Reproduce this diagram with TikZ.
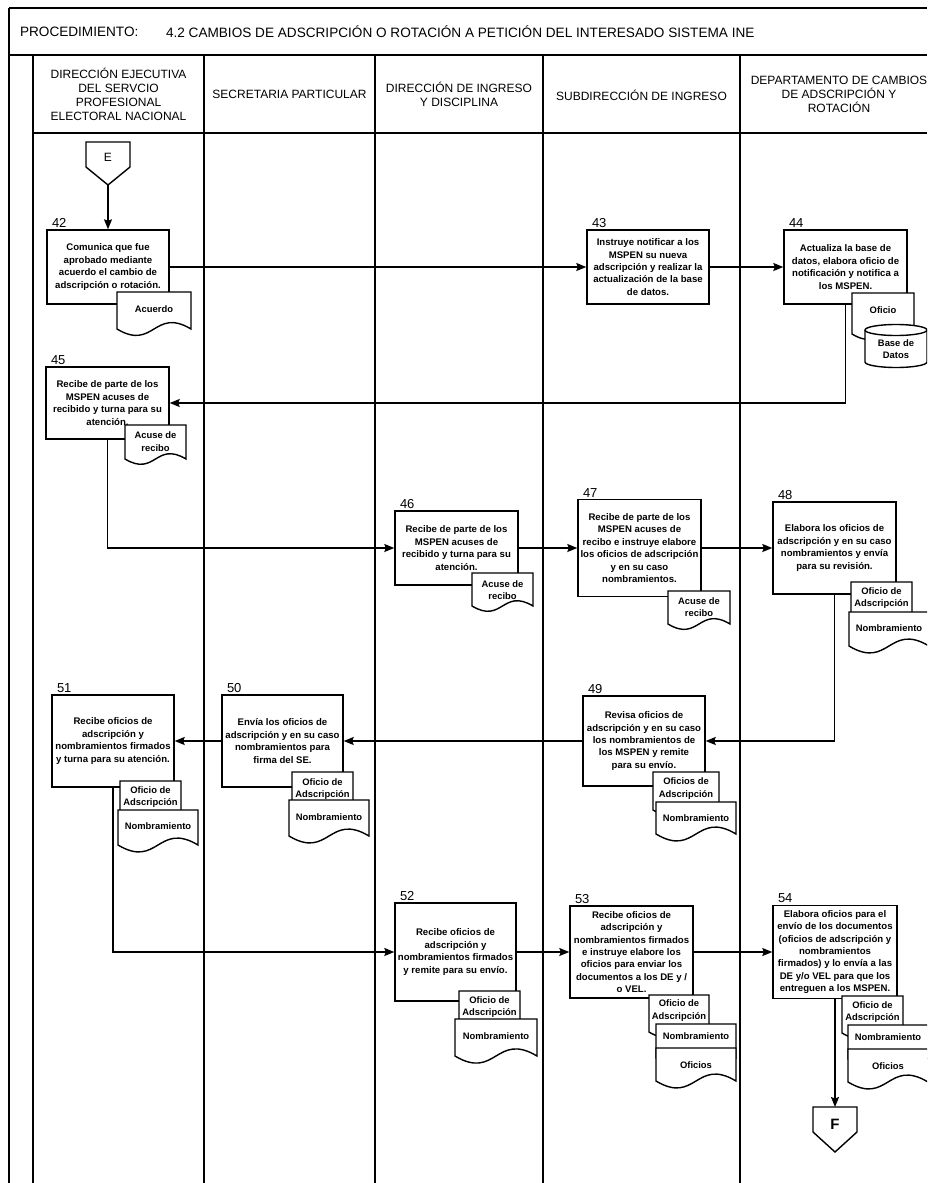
\documentclass[tikz,border=0pt]{standalone}
\usepackage{fontspec}
\setmainfont{Liberation Sans}
\usetikzlibrary{arrows.meta}
\begin{document}
\begin{tikzpicture}[line width=1.4pt,>={Stealth[length=10pt,width=8pt,inset=1.5pt]},x=1pt,y=-1pt,
	caja/.style={draw,fill=white,align=center,inner sep=0pt,minimum width=122,minimum height=74,font=\fontsize{9.6}{12.4}\selectfont\bfseries},
	num/.style={anchor=south west,xshift=4pt,inner sep=1pt,font=\fontsize{13}{13}\selectfont},
	carril/.style={align=center,font=\fontsize{12}{14}\selectfont},
	docu/.style={align=center,inner sep=0pt,font=\fontsize{9.4}{12.4}\selectfont\bfseries}]
		\useasboundingbox (0,0) rectangle (927,1183);
		\clip (0,0) rectangle (927,1183);
		% marco y carriles
		\draw (9,8) -- (927,8);
		\draw (9,55) -- (927,55);
		\draw (9,8) -- (9,1183);
		\draw (33,133) -- (927,133);
		\foreach \x in {33,204,375,543,740} \draw (\x,55) -- (\x,1183);
		\node[anchor=west,font=\fontsize{13.6}{15}\selectfont] (proc) at (16,31.5) {PROCEDIMIENTO:};
		\node[anchor=west,font=\fontsize{13.6}{15}\selectfont] (titulo) at (162,31.5) {4.2 CAMBIOS DE ADSCRIPCIÓN O ROTACIÓN A PETICIÓN DEL INTERESADO SISTEMA INE};
		\node[carril] (c1) at (118.5,94) {DIRECCIÓN EJECUTIVA\\DEL SERVCIO\\PROFESIONAL\\ELECTORAL NACIONAL};
		\node[carril] (c2) at (289.5,94) {SECRETARIA PARTICULAR};
		\node[carril] (c3) at (459,94) {DIRECCIÓN DE INGRESO\\Y DISCIPLINA};
		\node[carril] (c4) at (641.5,95) {SUBDIRECCIÓN DE INGRESO};
		\node[carril] (c5) at (839,94) {DEPARTAMENTO DE CAMBIOS\\DE ADSCRIPCIÓN Y\\ROTACIÓN};
		% conector de entrada
		\draw (86,142) -- (130,142) -- (130,167) -- (108,185) -- (86,167) -- cycle;
		\node[font=\fontsize{12}{12}\selectfont] (E) at (108,157) {E};
		\coordinate (Epunta) at (108,185);
		% actividades
		\node[caja] (p42) at (108,267) {Comunica que fue\\aprobado mediante\\acuerdo el cambio de\\adscripción o rotación.};
		\node[caja] (p43) at (648,267) {Instruye notificar a los\\MSPEN su nueva\\adscripción y realizar la\\actualización de la base\\de datos.};
		\node[caja,minimum width=123] (p44) at (845.5,267) {Actualiza la base de\\datos, elabora oficio de\\notificación y notifica a\\los MSPEN.};
		\node[caja,minimum width=123,minimum height=72] (p45) at (107.5,403) {Recibe de parte de los\\MSPEN acuses de\\recibido y turna para su\\atención.};
		\node[caja,minimum width=123] (p46) at (456.5,548) {Recibe de parte de los\\MSPEN acuses de\\recibido y turna para su\\atención.};
		\node[caja,minimum width=123,minimum height=97] (p47) at (639.5,548) {Recibe de parte de los\\MSPEN acuses de\\recibo e instruye elabore\\los oficios de adscripción\\y en su caso\\nombramientos.};
		\node[caja,minimum width=123,minimum height=92] (p48) at (834.5,548) {Elabora los oficios de\\adscripción y en su caso\\nombramientos y envía\\para su revisión.};
		\node[caja,minimum height=90] (p49) at (644,741) {Revisa oficios de\\adscripción y en su caso\\los nombramientos de\\los MSPEN y remite\\para su envío.};
		\node[caja,minimum width=121,minimum height=92] (p50) at (282.5,741) {Envía los oficios de\\adscripción y en su caso\\nombramientos para\\firma del SE.};
		\node[caja,minimum height=92] (p51) at (113,741) {Recibe oficios de\\adscripción y\\nombramientos firmados\\y turna para su atención.};
		\node[caja,minimum width=121,minimum height=98] (p52) at (455.5,952) {Recibe oficios de\\adscripción y\\nombramientos firmados\\y remite para su envío.};
		\node[caja,minimum width=123,minimum height=92] (p53) at (631.5,952) {Recibe oficios de\\adscripción y\\nombramientos firmados\\e instruye elabore los\\oficios para enviar los\\documentos a los DE y /\\o VEL.};
		\node[caja,minimum width=124,minimum height=93] (p54) at (835,952) {Elabora oficios para el\\envío de los documentos\\(oficios de adscripción y\\nombramientos\\firmados) y lo envía a las\\DE y/o VEL para que los\\entreguen a los MSPEN.};
		\foreach \p in {42,43,...,54} \node[num] (n\p) at (p\p.north west) {\p};
		% flujo
		\draw[->] (Epunta) -- (p42.north);
		\draw[->] (p42.east) -- (p43.west);
		\draw[->] (p43.east) -- (p44.west);
		\draw[->] (p44.south) |- (p45.east);
		\draw[->] (p45.south) |- (p46.west);
		\draw[->] (p46.east) -- (p47.west);
		\draw[->] (p47.east) -- (p48.west);
		\draw[->] (p48.south) |- (p49.east);
		\draw[->] (p49.west) -- (p50.east);
		\draw[->] (p50.west) -- (p51.east);
		\draw[->] (p51.south) |- (p52.west);
		\draw[->] (p52.east) -- (p53.west);
		\draw[->] (p53.east) -- (p54.west);
		% documentos
		\foreach \nom/\xa/\ya/\xb/\yb/\yt/\txt in {
			dA42/117/292/191/329/309/{Acuerdo},
			dO44/852/293/914/334/310/{Oficio},
			dA45/125/425/186/459/441.5/{Acuse de\\recibo},
			dA46/472/573/533/606/590/{Acuse de\\recibo},
			dA47/668/591/730/624/607/{Acuse de\\recibo},
			dO48/851/582/912/620/598/{Oficio de\\Adscripción},
			dN48/849/612/929/646/628/{Nombramiento},
			dO49/653/772/719/810/788.5/{Oficios de\\Adscripción},
			dN49/656/802/736/834/818/{Nombramiento},
			dO50/292/772/353/808/789/{Oficio de\\Adscripción},
			dN50/289/800/369/836/817/{Nombramiento},
			dO51/120/781/181/818/797/{Oficio de\\Adscripción},
			dN51/118/810/198/845/826/{Nombramiento},
			dO52/459/991/520/1027/1007/{Oficio de\\Adscripción},
			dN52/455/1019/537/1056/1036/{Nombramiento},
			dO53/649/995/709/1032/1010.5/{Oficio de\\Adscripción},
			dN53/656/1024/736/1058/1036/{Nombramiento},
			dF53/656/1048/736/1081/1065/{Oficios},
			dO54/842/996/903/1033/1012/{Oficio de\\Adscripción},
			dN54/848/1025/928/1059/1037/{Nombramiento},
			dF54/848/1049/928/1082/1066/{Oficios}}
		{
			\filldraw[fill=white] (\xa,\ya) -- (\xb,\ya) -- (\xb,\yb) .. controls ({(\xa+\xb)/2},{\yb-0.3*(\xb-\xa)}) and ({(\xa+\xb)/2},{\yb+0.3*(\xb-\xa)}) .. (\xa,\yb) -- cycle;
			\node[docu] (\nom) at ({(\xa+\xb)/2},\yt) {\txt};
		}
		% base de datos
		\filldraw[fill=white] (865,330) -- (865,362) arc[start angle=180,end angle=0,x radius=31,y radius=5.5] -- (927,330) arc[start angle=0,end angle=-180,x radius=31,y radius=5.5] -- cycle;
		\draw (865,330) arc[start angle=180,end angle=0,x radius=31,y radius=5.5];
		\node[docu] (bd44) at (896,349) {Base de\\Datos};
		% conector de salida
		\draw (813,1107) -- (857,1107) -- (857,1132) -- (835,1152) -- (813,1132) -- cycle;
		\node[font=\fontsize{15}{15}\selectfont\bfseries] (F) at (835,1124) {F};
		\coordinate (Fcima) at (835,1107);
		\draw[->] (p54.south) -- (Fcima);
		\end{tikzpicture}
\end{document}
